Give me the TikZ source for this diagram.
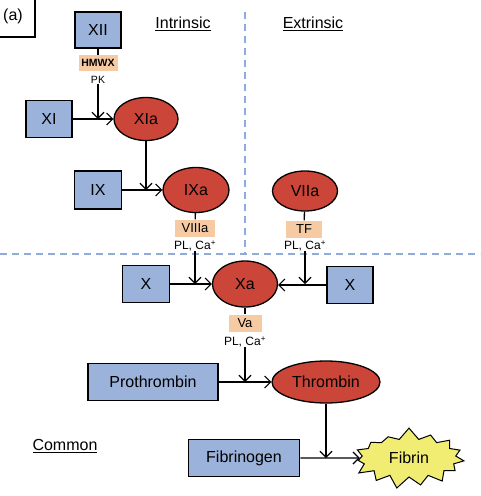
\documentclass[tikz,border=0pt]{standalone}
\usepackage{fontspec}
\setmainfont{Liberation Sans}
\usetikzlibrary{arrows.meta,shapes.geometric,shapes.symbols}
\definecolor{boxblue}{HTML}{9BB2DA}
\definecolor{ovred}{HTML}{CB4539}
\definecolor{peach}{HTML}{F6CBA4}
\definecolor{dashblue}{HTML}{8FAADC}
\definecolor{fyellow}{HTML}{F1EC72}
\tikzset{
  factor/.style={draw=black,line width=1.8pt,fill=boxblue,inner sep=0pt,font=\fontsize{16}{19}\selectfont},
  enzyme/.style={ellipse,draw=black,line width=1.3pt,fill=ovred,inner sep=0pt,font=\fontsize{16}{19}\selectfont},
  cofac/.style={fill=peach,inner sep=0pt,font=\fontsize{13}{15}\selectfont},
  small/.style={inner sep=0pt,font=\fontsize{12}{14}\selectfont},
  heading/.style={inner sep=0pt,font=\fontsize{16}{19}\selectfont},
  conn/.style={line width=1.3pt,draw=black},
  arr/.style={conn,-{Straight Barb[length=6pt,width=12pt,line width=1.1pt]}},
  divider/.style={draw=dashblue,line width=2pt,dash pattern=on 7pt off 5pt}
}
\begin{document}
\begin{tikzpicture}[x=1pt,y=-1pt]
\useasboundingbox (0,0) rectangle (480,496);
% panel label
\node[heading] (panel) at (13,16) {(a)};
\draw[line width=1.8pt] (35,-2) |- (-2,37);
% dividers
\draw[divider] (245,12) -- (245,254);
\draw[divider] (0,254) -- (480,254);
% headings
\node[heading] (intr) at (183,24) {\underline{Intrinsic}};
\node[heading] (extr) at (313,24) {\underline{Extrinsic}};
\node[heading] (comm) at (65,446) {\underline{Common}};
% intrinsic
\node[factor,minimum width=46pt,minimum height=36pt] (XII) at (98,30) {XII};
\node[cofac,minimum width=39pt,minimum height=16pt,font=\fontsize{10.5}{12}\selectfont\bfseries] (HMWX) at (98,63) {HMWX};
\node[small,font=\fontsize{10.5}{12}\selectfont] (PK) at (98,80) {PK};
\node[factor,minimum width=46pt,minimum height=37pt] (XI) at (49,119) {XI};
\node[enzyme,minimum width=64pt,minimum height=43pt] (XIa) at (146,119) {XIa};
\node[factor,minimum width=47pt,minimum height=38pt] (IX) at (98,190) {IX};
\node[enzyme,minimum width=66pt,minimum height=45pt] (IXa) at (196,190) {IXa};
\node[cofac,minimum width=40pt,minimum height=17pt] (VIIIa) at (195,228) {VIIIa};
\node[small] (PL1) at (195,246) {PL, Ca\textsuperscript{+}};
% extrinsic
\node[enzyme,minimum width=65pt,minimum height=40pt] (VIIa) at (305,191) {VIIa};
\node[cofac,minimum width=36pt,minimum height=17pt] (TF) at (304,229) {TF};
\node[small] (PL2) at (305,246) {PL, Ca\textsuperscript{+}};
% common
\node[factor,minimum width=47pt,minimum height=37pt] (XL) at (146,284) {X};
\node[enzyme,minimum width=65pt,minimum height=46pt] (Xa) at (245,284) {Xa};
\node[factor,minimum width=46pt,minimum height=37pt] (XR) at (350,285) {X};
\node[cofac,minimum width=33pt,minimum height=17pt] (Va) at (245,323) {Va};
\node[small] (PL3) at (245,342) {PL, Ca\textsuperscript{+}};
\node[factor,minimum width=130pt,minimum height=37pt] (Pro) at (153,382) {Prothrombin};
\node[enzyme,minimum width=108pt,minimum height=42pt] (Thr) at (326,382) {Thrombin};
\node[factor,minimum width=111pt,minimum height=37pt] (Fgen) at (244,458) {Fibrinogen};
\node[starburst,starburst points=15,starburst point height=12pt,random starburst=7,
      draw=black,line width=1pt,fill=fyellow,inner sep=0pt,
      minimum width=118pt,minimum height=62pt,font=\fontsize{16}{19}\selectfont] (Fib) at (409,458) {Fibrin};
% junctions
\coordinate (j1) at (PK |- XI.east);
\coordinate (j2) at (XIa.south |- IX.east);
\coordinate (j3) at (PL1.south |- XL.east);
\coordinate (j4) at (PL2.south |- XL.east);
\coordinate (j5) at (PL3.south |- Pro.east);
\coordinate (j6) at (Thr.south |- Fgen.east);
% connectors
\draw[conn] (XII) -- (HMWX);
\draw[arr] (PK.south) -- (j1);
\draw[arr] (XI) -- (XIa);
\draw[arr] (XIa) -- (j2);
\draw[arr] (IX) -- (IXa);
\draw[conn] (IXa) -- (VIIIa);
\draw[arr] (PL1.south) -- (j3);
\draw[conn] (VIIa) -- (TF);
\draw[arr] (PL2.south) -- (j4);
\draw[arr] (XL) -- (Xa);
\draw[arr] (XR.west) -- (Xa.east |- XR.west);
\draw[conn] (Xa) -- (Va);
\draw[arr] (PL3.south) -- (j5);
\draw[arr] (Pro) -- (Thr);
\draw[arr] (Thr) -- (j6);
\draw[arr] (Fgen) -- (Fib);
\end{tikzpicture}
\end{document}
